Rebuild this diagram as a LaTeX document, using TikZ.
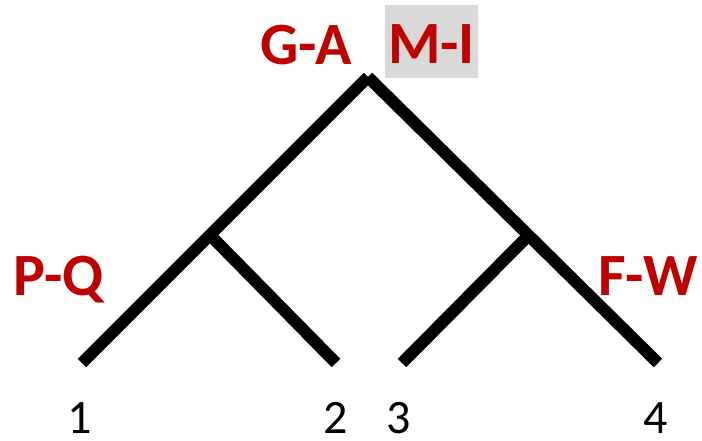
\documentclass[tikz,border=0pt]{standalone}
\usepackage{fontspec}
\setmainfont{Carlito}
\definecolor{lblred}{HTML}{C00000}
\definecolor{boxgray}{HTML}{D9D9D9}
\begin{document}
\begin{tikzpicture}[x=1pt,y=-1pt,
  branch/.style={line width=12pt,line cap=butt},
  lbl/.style={font=\fontsize{60}{60}\selectfont\bfseries,text=lblred,anchor=base,inner sep=0pt},
  num/.style={font=\fontsize{48}{48}\selectfont,anchor=base,inner sep=0pt}]
\useasboundingbox (0,0) rectangle (702,441);
\coordinate (root) at (368,77);
\coordinate (ln) at (210,235);
\coordinate (rn) at (528,236);
\coordinate (l1) at (82,363);
\coordinate (l2) at (336,363);
\coordinate (l3) at (402,363);
\coordinate (l4) at (658,363);
\draw[branch] (l1) -- (root);
\draw[branch] (root) -- (l4);
\draw[branch] (ln) -- (l2);
\draw[branch] (rn) -- (l3);
\node[lbl] (ga) at (306,65) {G-A};
\node[lbl,fill=boxgray,inner xsep=3pt,inner ysep=0pt,text height=59pt,text depth=14pt] (mi) at (431.5,64) {M-I};
\node[lbl] (pq) at (59,295) {P-Q};
\node[lbl] (fw) at (648,295) {F-W};
\node[num] (n1) at (80,433) {1};
\node[num] (n2) at (336,433) {2};
\node[num] (n3) at (399,433) {3};
\node[num] (n4) at (656,433) {4};
\end{tikzpicture}
\end{document}
